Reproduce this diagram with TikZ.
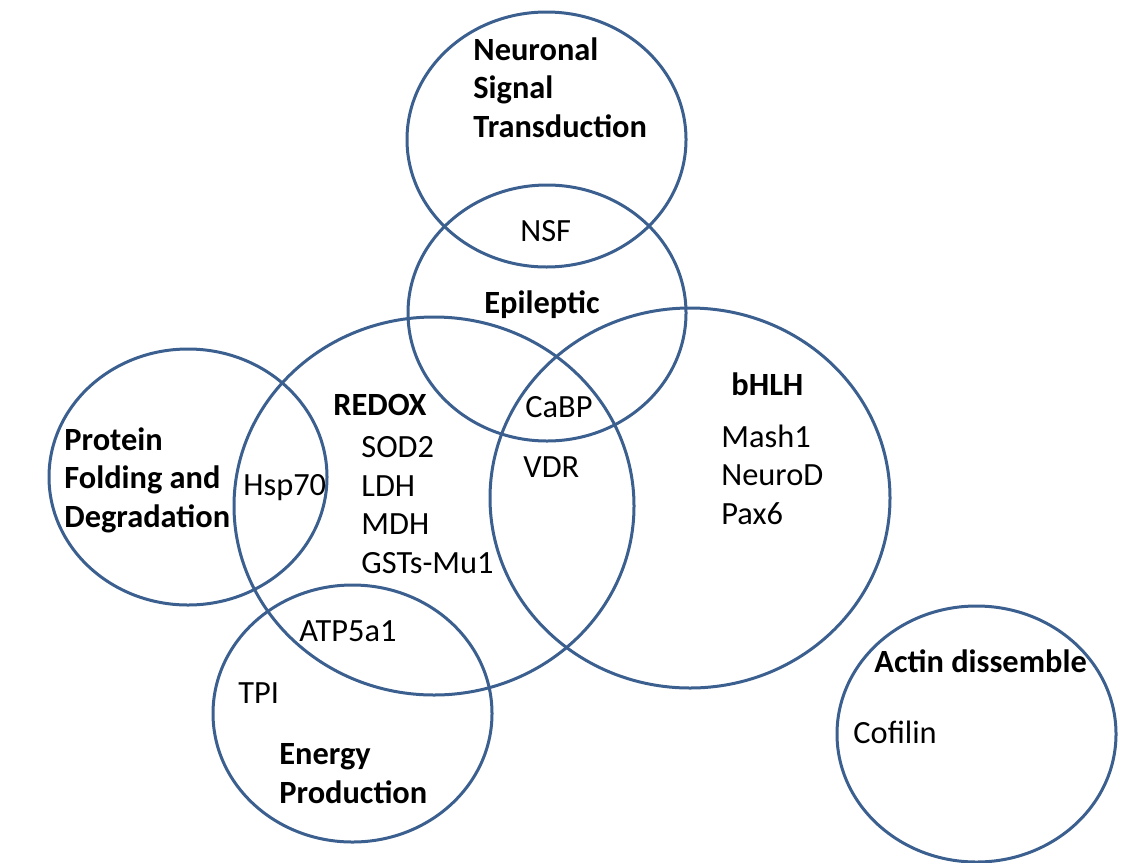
\documentclass[tikz,border=0pt]{standalone}
\usepackage{fontspec}
\setmainfont{Carlito}
\usetikzlibrary{shapes.geometric}
\definecolor{ringblue}{HTML}{3B5F8E}

\begin{document}
\begin{tikzpicture}[
		x=0.5pt, y=-0.5pt,
		every node/.style={inner sep=0pt, font=\fontsize{16.2}{19.25}\selectfont},
		ring/.style={ellipse, draw=ringblue, line width=1.5pt},
		head/.style={anchor=base west, align=left, font=\fontsize{16.2}{19.25}\selectfont\bfseries},
		item/.style={anchor=base west, align=left}
	]
  \useasboundingbox (0,0) rectangle (1143,862);
  % the circles
  \node (neuro) [ring, minimum width=139.5pt, minimum height=127.5pt] at (546.5,139.5) {};
  \node (epil) [ring, minimum width=139pt, minimum height=128pt] at (547,313) {};
  \node (redox) [ring, minimum width=200pt, minimum height=189pt] at (434,506) {};
  \node (bhlh) [ring, minimum width=200pt, minimum height=190pt] at (690,498) {};
  \node (fold) [ring, minimum width=139pt, minimum height=128pt] at (188,477) {};
  \node (energy) [ring, minimum width=139.5pt, minimum height=128.5pt] at (352.5,713.5) {};
  \node (actin) [ring, minimum width=139.5pt, minimum height=128pt] at (976.5,734) {};

  % headings (base = last line)
  \node (neuro_t) [head] at (473,137) {Neuronal\\Signal\\Transduction};
  \node (epil_t) [head] at (484,313) {Epileptic};
  \node (redox_t) [head] at (333,415) {REDOX};
  \node (bhlh_t) [head] at (731,395) {bHLH};
  \node (fold_t) [head] at (64,527) {Protein\\Folding and\\Degradation};
  \node (energy_t) [head] at (279,803) {Energy\\Production};
  \node (actin_t) [head] at (874,672) {Actin dissemble};

  % members
  \node (nsf) [item] at (520,241) {NSF};
  \node (cabp) [item] at (525,417) {CaBP};
  \node (vdr) [item] at (523,477) {VDR};
  \node (redox_l) [item] at (361,573) {SOD2\\LDH\\MDH\\GSTs-Mu1};
  \node (hsp) [item] at (243,495) {Hsp70};
  \node (bhlh_l) [item] at (721,524) {Mash1\\NeuroD\\Pax6};
  \node (atp) [item] at (299,641) {ATP5a1};
  \node (tpi) [item] at (238,703) {TPI};
  \node (cof) [item] at (853,743) {Cofilin};
\end{tikzpicture}
\end{document}
